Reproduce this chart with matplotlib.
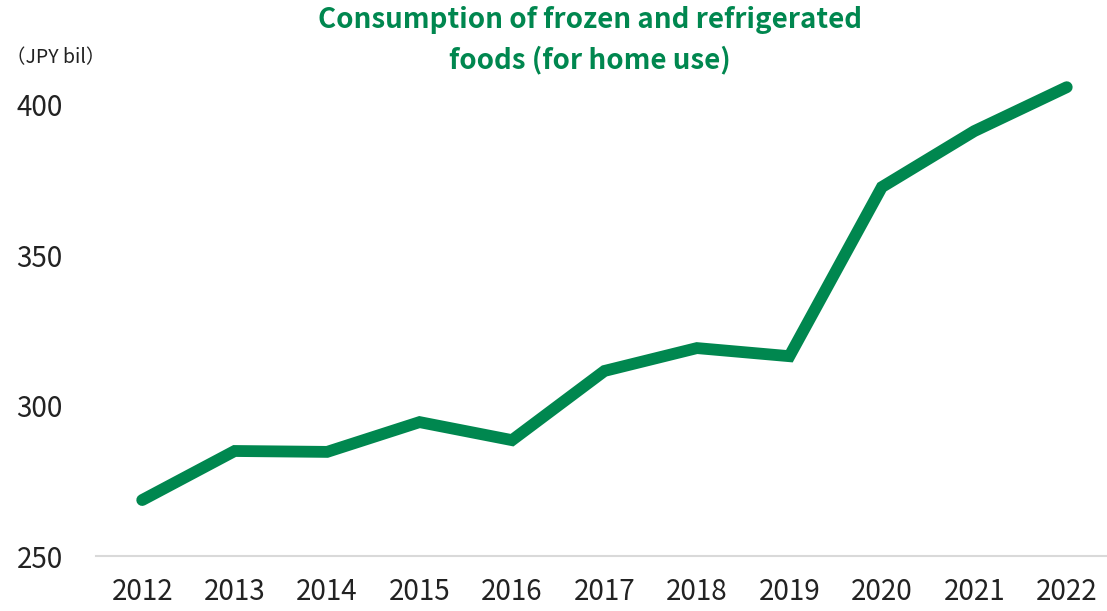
import matplotlib.pyplot as plt

# data
anos = ['2012', '2013', '2014', '2015', '2016', '2017', '2018', '2019', '2020', '2021', '2022']
consumo = [268.6, 284.9, 284.6, 294.5, 288.5, 311.5, 319.1, 316.4, 372.6, 391.2, 405.8]
ticks_y = [250, 300, 350, 400]

verde = '#00874f'
plt.rcParams['font.family'] = ['Noto Sans CJK JP', 'DejaVu Sans']

fig = plt.figure(figsize=(11.07, 6.11), dpi=100)
ax = fig.add_axes([0.0867, 0.09, 1.0054 - 0.0867, 0.788])

x = list(range(len(anos)))
ax.plot(x, consumo, color=verde, linewidth=8.5, solid_capstyle='round', solid_joinstyle='miter')

ax.set_xlim(-0.5, len(anos) - 0.5)
ax.set_ylim(250, 410)
ax.set_xticks(x)
ax.set_xticklabels(anos)
ax.set_yticks(ticks_y)

# solo la linea base gris
for lado in ['top', 'right', 'left']:
    ax.spines[lado].set_visible(False)
ax.spines['bottom'].set_color('#d9d9d9')
ax.spines['bottom'].set_linewidth(1.5)

ax.tick_params(axis='x', length=0, pad=15, labelsize=20, labelcolor='#222222')
ax.tick_params(axis='y', length=0, pad=24, labelsize=20, labelcolor='#222222')

# titulo en dos lineas
fig.text(0.533, 1 - 20 / 611, 'Consumption of frozen and refrigerated',
         ha='center', va='center', fontsize=20, fontweight='bold', color=verde)
fig.text(0.533, 1 - 60 / 611, 'foods (for home use)',
         ha='center', va='center', fontsize=20, fontweight='bold', color=verde)
fig.text(0.005, 0.905, '（JPY bil）', ha='left', va='center', fontsize=14, color='#222222')

fig.savefig('out.png', dpi=100)
